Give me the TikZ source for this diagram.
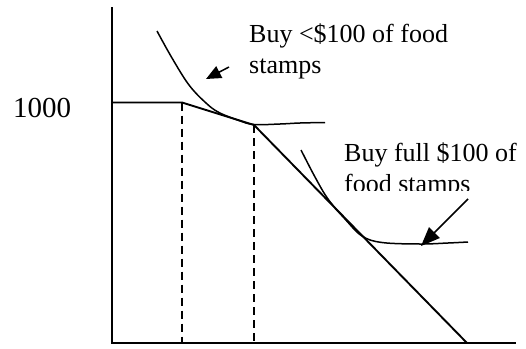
\documentclass[tikz,border=0pt]{standalone}
\usepackage{fontspec}
\setmainfont{Liberation Serif}
\usetikzlibrary{arrows.meta}
\tikzset{
  axisline/.style={line width=2.6pt},
  budget/.style={line width=1.9pt},
  icurve/.style={line width=1.5pt},
  dropline/.style={line width=1.9pt, dash pattern=on 8pt off 5pt},
  ptr/.style={line width=1.5pt},
  lbl/.style={inner sep=0pt, anchor=base west, font=\fontsize{26}{31}\selectfont},
}
\begin{document}
\begin{tikzpicture}[x=1pt,y=-1pt]
\useasboundingbox (0,0) rectangle (526,348);
% axes
\coordinate (ytop) at (112,7);
\coordinate (orig) at (112,343);
\coordinate (xend) at (516,343);
\draw[axisline] (ytop) -- (orig) -- (xend);
% budget line
\coordinate (b0) at (112,102.5);
\coordinate (k1) at (182,102.5);
\coordinate (k2) at (254,125);
\coordinate (bx) at (467,343);
\draw[budget] (b0) -- (k1) -- (k2) -- (bx);
% dashed drop lines
\coordinate (d1) at (182,343);
\coordinate (d2) at (254,343);
\draw[dropline] (k1) -- (d1);
\draw[dropline] (k2) -- (d2);
% indifference curve 1
\draw[icurve] plot[smooth, tension=0.6] coordinates {(157,31) (172,58) (189,85) (206,103) (219,112.5) (239,120.5) (254,124.5) (280,124) (300,123) (325,122.5)};
% indifference curve 2
\draw[icurve] plot[smooth, tension=0.6] coordinates {(301,150) (315,177) (328,199) (345,219) (362,236) (382,242.5) (420,244) (448,243) (468,242)};
% labels
\node[lbl] (l1a) at (249,42.5) {Buy <\$100 of food};
\node[lbl] (l1b) at (249,73) {stamps};
\begin{scope}
\clip (330,130) rectangle (526,190);
\node[lbl] (l2a) at (344,161.5) {Buy full \$100 of};
\node[lbl] (l2b) at (344,192.5) {food stamps};
\end{scope}
\node[inner sep=0pt, anchor=base west, font=\fontsize{29}{34}\selectfont] (v) at (13,117) {1000};
% pointers
\coordinate (a1s) at (229,67);
\coordinate (a1e) at (206,79);
\draw[ptr, -{Triangle[length=15pt,width=13pt]}] (a1s) -- (a1e);
\coordinate (a2s) at (468,199);
\coordinate (a2e) at (421,246);
\draw[ptr, -{Triangle[length=19pt,width=15pt]}] (a2s) -- (a2e);
\end{tikzpicture}
\end{document}
